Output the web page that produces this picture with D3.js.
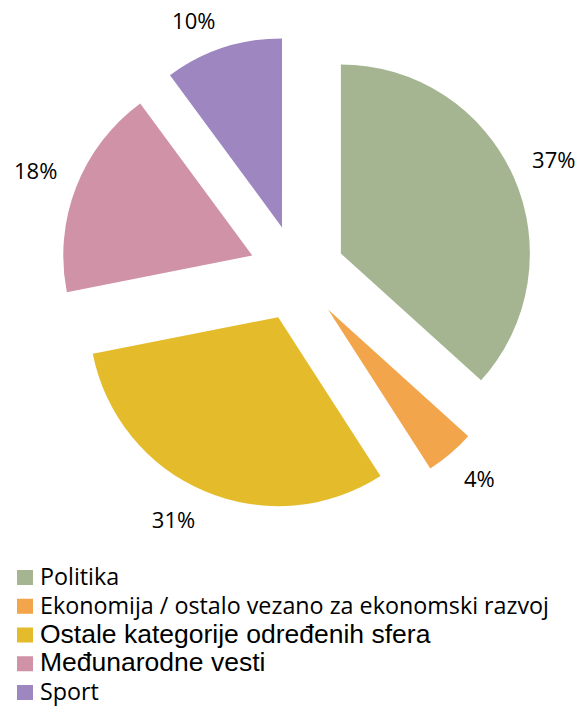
<!DOCTYPE html>
<html>
<head>
<meta charset="utf-8">
<script src="https://cdn.jsdelivr.net/npm/d3@7"></script>
<style>
    body { margin: 0; background: #fff; }
    svg { display: block; }
</style>
</head>
<body>
<svg id="chart"></svg>
<script>
// chart data
var categories = ['Politika', 'Ekonomija / ostalo vezano za ekonomski razvoj', 'Ostale kategorije određenih sfera', 'Međunarodne vesti', 'Sport'];
var shares = [36.7, 4.2, 31.0, 18.0, 10.1];
var shareLabels = ['37%', '4%', '31%', '18%', '10%'];
var colors = ['#a5b592', '#f2a54a', '#e4bc2b', '#cf92a7', '#9e86c0'];

(function () {
    var width = 580, height = 706;
    var cx = 297, cy = 273, radius = 189, explode = 48, labelGap = 18;

    var svg = d3.select('#chart')
        .attr('width', width)
        .attr('height', height);

    var pie = d3.pie()
        .sort(null)
        .value(function (d) { return d; });

    var arc = d3.arc().innerRadius(0).outerRadius(radius);
    var labelArc = d3.arc().innerRadius(radius + labelGap).outerRadius(radius + labelGap);

    var slices = pie(shares);

    function midAngle(d) { return (d.startAngle + d.endAngle) / 2; }

    // offset of each slice along its middle angle
    function shift(d) {
        var a = midAngle(d);
        return [explode * Math.sin(a), -explode * Math.cos(a)];
    }

    var g = svg.append('g')
        .attr('transform', 'translate(' + cx + ',' + cy + ')');

    var slice = g.selectAll('.slice')
        .data(slices)
        .enter().append('g')
            .attr('class', 'slice')
            .attr('transform', function (d) { return 'translate(' + shift(d) + ')'; });

    slice.append('path')
        .attr('d', arc)
        .attr('fill', function (d, i) { return colors[i]; });

    // labels sit outside the slice, with the nearest corner of the text box on the label arc
    slice.append('text')
        .attr('text-anchor', 'middle')
        .attr('dominant-baseline', 'central')
        .style('font-family', '"Open Sans", sans-serif')
        .style('font-size', '22px')
        .style('fill', '#000')
        .text(function (d, i) { return shareLabels[i]; })
        .attr('transform', function (d) {
            var a = midAngle(d), p = labelArc.centroid(d);
            var hw = this.getComputedTextLength() / 2 + 2, hh = 11;
            var x = p[0] + (Math.sin(a) >= 0 ? hw : -hw);
            var y = p[1] + (Math.cos(a) >= 0 ? -hh : hh);
            return 'translate(' + x + ',' + y + ')';
        });

    // legend
    var legendFonts = [
        ['"Open Sans", sans-serif', 23.3],
        ['"Open Sans", sans-serif', 23.3],
        ['"Liberation Sans", Arial, sans-serif', 26.5],
        ['"Liberation Sans", Arial, sans-serif', 26.5],
        ['"Open Sans", sans-serif', 23.3]
    ];

    var legend = svg.append('g')
        .attr('transform', 'translate(17,570)');

    var item = legend.selectAll('.item')
        .data(categories)
        .enter().append('g')
            .attr('class', 'item')
            .attr('transform', function (d, i) { return 'translate(0,' + (i * 28.75) + ')'; });

    item.append('rect')
        .attr('width', 16)
        .attr('height', 15)
        .attr('fill', function (d, i) { return colors[i]; });

    item.append('text')
        .attr('x', 23)
        .attr('y', 15)
        .style('font-family', function (d, i) { return legendFonts[i][0]; })
        .style('font-size', function (d, i) { return legendFonts[i][1] + 'px'; })
        .style('fill', '#000')
        .text(function (d) { return d; });
}());
</script>
</body>
</html>
